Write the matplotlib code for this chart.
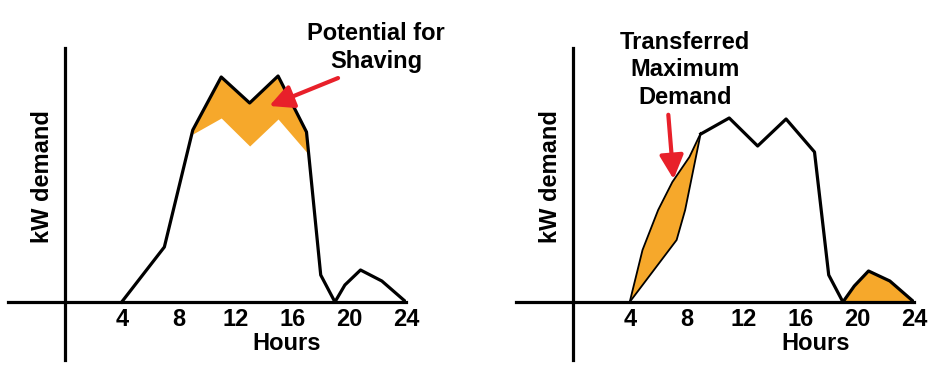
import matplotlib
matplotlib.use("Agg")
import matplotlib.pyplot as plt

plt.rcParams['font.family'] = ['Liberation Sans', 'DejaVu Sans']
plt.rcParams['font.weight'] = 'bold'

# load profile (hours, kW demand in arbitrary units)
HOURS = [4, 7, 9, 11, 13, 15, 17, 18, 19, 19.7, 20.8, 22.3, 24]
DEMAND = [0, 5.5, 17.2, 22.5, 19.9, 22.6, 17.0, 2.7, 0, 1.7, 3.2, 2.1, 0]

# peak hours after shaving
PEAK_HOURS = [9, 11, 13, 15, 17]
SHAVED = [16.8, 18.4, 15.6, 18.3, 15.0]

# tail of the day (after 17h)
TAIL_HOURS = [18, 19, 19.8, 20.8, 22.3, 24]
TAIL = [2.7, 0, 1.6, 3.1, 2.1, 0]

# morning ramp, transferred demand (upper) and original (lower)
MOVED_HOURS = [4, 4.9, 6, 7, 8.2, 9]
MOVED = [0, 5.2, 9.2, 12.0, 14.5, 16.9]
LOW_HOURS = [4, 7.3, 7.9, 9]
LOW = [0, 6.2, 9.2, 16.9]

TICKS = [4, 8, 12, 16, 20, 24]

ORANGE = '#f6a82b'
RED = '#e8202a'
FS = 17
W, H = 938, 379

fig = plt.figure(figsize=(W / 100, H / 100), dpi=100)
fig.patch.set_facecolor('white')


def make_axes(left_px):
    ax = fig.add_axes([left_px / W, 19 / H, 398 / W, 312 / H])
    ax.set_xlim(-4, 24)
    ax.set_ylim(-5.8, 25.4)
    for s in ['top', 'right']:
        ax.spines[s].set_visible(False)
    for s in ['left', 'bottom']:
        ax.spines[s].set_position('zero')
        ax.spines[s].set_linewidth(2.3)
    ax.set_xticks(TICKS)
    ax.set_xticklabels([str(t) for t in TICKS])
    ax.set_yticks([])
    ax.tick_params(axis='x', length=0, pad=4, labelsize=FS)
    for lab in ax.get_xticklabels():
        lab.set_fontweight('bold')
    ax.patch.set_alpha(0)
    ax.text(-1.55, 12.5, 'kW demand', rotation=90, ha='center', va='center',
            fontsize=FS, fontweight='bold')
    return ax


# left panel: potential for shaving
ax1 = make_axes(8)
ax1.text(15.6, -4.1, 'Hours', ha='center', va='center', fontsize=FS, fontweight='bold')
orig_peak = DEMAND[2:7]
ax1.fill_between(PEAK_HOURS, SHAVED, orig_peak, color=ORANGE, lw=0, zorder=2)
ax1.plot(HOURS, DEMAND, color='black', lw=2.3, zorder=3)
ax1.text(21.9, 25.45, 'Potential for\nShaving', ha='center', va='center',
         fontsize=FS, fontweight='bold', linespacing=1.25, clip_on=False)
ax1.annotate('', xy=(14.2, 19.5), xytext=(19.4, 22.5), annotation_clip=False,
             arrowprops=dict(arrowstyle='-|>', color=RED, lw=3, mutation_scale=36),
             zorder=5)

# right panel: transferred maximum demand
ax2 = make_axes(516)
ax2.text(17.1, -4.1, 'Hours', ha='center', va='center', fontsize=FS, fontweight='bold')
ax2.fill(MOVED_HOURS + LOW_HOURS[::-1], MOVED + LOW[::-1], color=ORANGE, lw=0, zorder=2)
ax2.plot(MOVED_HOURS, MOVED, color='black', lw=1.3, zorder=3)
ax2.plot(LOW_HOURS, LOW, color='black', lw=1.3, zorder=3)
ax2.fill_between(TAIL_HOURS[1:], TAIL[1:], 0, color=ORANGE, lw=0, zorder=2)
ax2.plot(PEAK_HOURS + TAIL_HOURS, SHAVED + TAIL, color='black', lw=2.3, zorder=3)
ax2.text(7.9, 23.2, 'Transferred\nMaximum\nDemand', ha='center', va='center',
         fontsize=FS, fontweight='bold', linespacing=1.25, clip_on=False)
ax2.annotate('', xy=(7.1, 12.0), xytext=(6.7, 19.0), annotation_clip=False,
             arrowprops=dict(arrowstyle='-|>', color=RED, lw=3, mutation_scale=36),
             zorder=5)

fig.savefig('out.png', dpi=100)
